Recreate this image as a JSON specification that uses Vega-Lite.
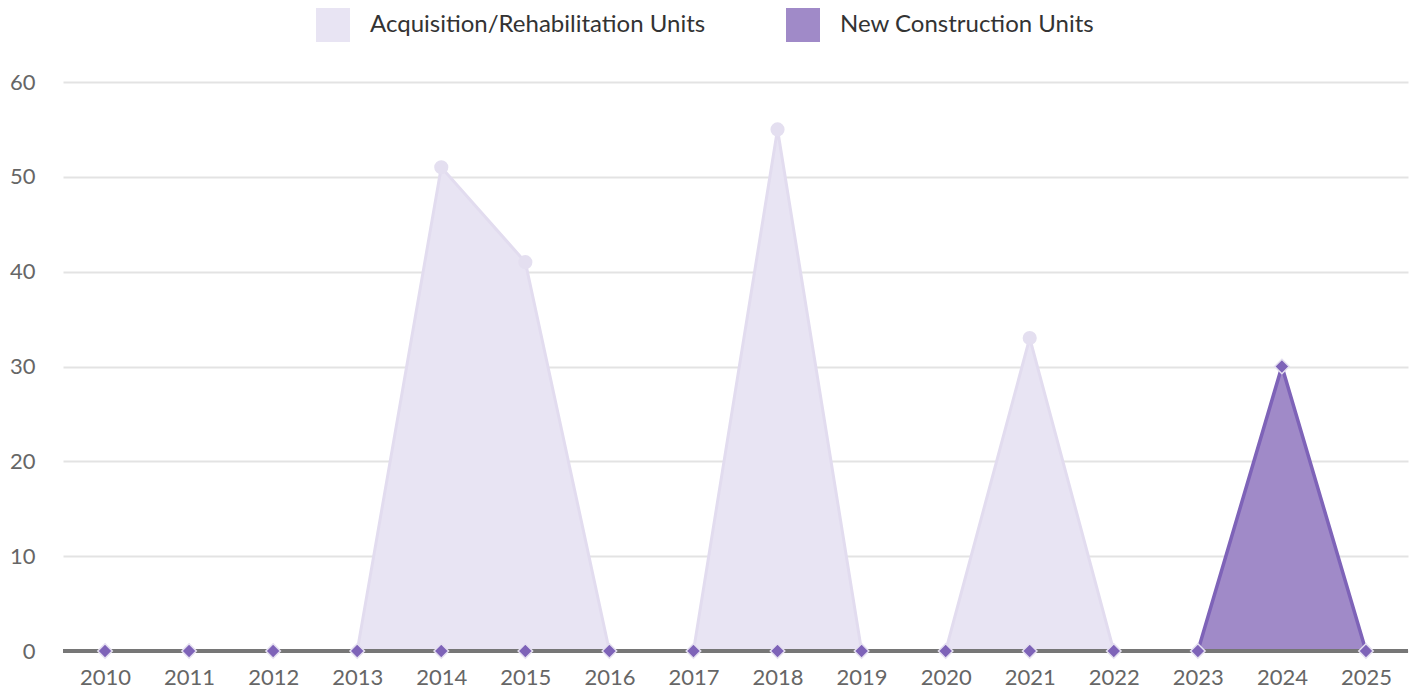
{
  "$schema": "https://vega.github.io/schema/vega-lite/v6.json",
  "width": 1345,
  "height": 569,
  "autosize": {"type": "none"},
  "padding": {"left": 63, "top": 82, "right": 8, "bottom": 41},
  "background": "#ffffff",
  "config": {
    "font": "Lato",
    "view": {"stroke": null},
    "axis": {"labelFont": "Lato", "labelFontSize": 22, "labelColor": "#666666"}
  },
  "data": {
    "values": [
      {"year": "2010", "series": "Acquisition/Rehabilitation Units", "units": 0},
      {"year": "2011", "series": "Acquisition/Rehabilitation Units", "units": 0},
      {"year": "2012", "series": "Acquisition/Rehabilitation Units", "units": 0},
      {"year": "2013", "series": "Acquisition/Rehabilitation Units", "units": 0},
      {"year": "2014", "series": "Acquisition/Rehabilitation Units", "units": 51},
      {"year": "2015", "series": "Acquisition/Rehabilitation Units", "units": 41},
      {"year": "2016", "series": "Acquisition/Rehabilitation Units", "units": 0},
      {"year": "2017", "series": "Acquisition/Rehabilitation Units", "units": 0},
      {"year": "2018", "series": "Acquisition/Rehabilitation Units", "units": 55},
      {"year": "2019", "series": "Acquisition/Rehabilitation Units", "units": 0},
      {"year": "2020", "series": "Acquisition/Rehabilitation Units", "units": 0},
      {"year": "2021", "series": "Acquisition/Rehabilitation Units", "units": 33},
      {"year": "2022", "series": "Acquisition/Rehabilitation Units", "units": 0},
      {"year": "2023", "series": "Acquisition/Rehabilitation Units", "units": 0},
      {"year": "2024", "series": "Acquisition/Rehabilitation Units", "units": 0},
      {"year": "2025", "series": "Acquisition/Rehabilitation Units", "units": 0},
      {"year": "2010", "series": "New Construction Units", "units": 0},
      {"year": "2011", "series": "New Construction Units", "units": 0},
      {"year": "2012", "series": "New Construction Units", "units": 0},
      {"year": "2013", "series": "New Construction Units", "units": 0},
      {"year": "2014", "series": "New Construction Units", "units": 0},
      {"year": "2015", "series": "New Construction Units", "units": 0},
      {"year": "2016", "series": "New Construction Units", "units": 0},
      {"year": "2017", "series": "New Construction Units", "units": 0},
      {"year": "2018", "series": "New Construction Units", "units": 0},
      {"year": "2019", "series": "New Construction Units", "units": 0},
      {"year": "2020", "series": "New Construction Units", "units": 0},
      {"year": "2021", "series": "New Construction Units", "units": 0},
      {"year": "2022", "series": "New Construction Units", "units": 0},
      {"year": "2023", "series": "New Construction Units", "units": 0},
      {"year": "2024", "series": "New Construction Units", "units": 30},
      {"year": "2025", "series": "New Construction Units", "units": 0}
    ]
  },
  "encoding": {
    "x": {
      "field": "year", "type": "ordinal",
      "scale": {"type": "point", "padding": 0.5},
      "axis": {"title": null, "labelAngle": 0, "domain": false, "ticks": false, "grid": false, "labelPadding": 16}
    },
    "y": {
      "field": "units", "type": "quantitative",
      "scale": {"domain": [0, 60], "nice": false},
      "axis": {"title": null, "values": [0, 10, 20, 30, 40, 50, 60], "domain": false, "ticks": false, "labelPadding": 28, "gridColor": "#e3e3e3", "gridWidth": 2}
    }
  },
  "layer": [
    {
      "transform": [{"filter": "datum.series === 'Acquisition/Rehabilitation Units'"}],
      "mark": {"type": "area", "opacity": 1},
      "encoding": {
        "color": {
          "field": "series", "type": "nominal",
          "scale": {"domain": ["Acquisition/Rehabilitation Units", "New Construction Units"], "range": ["#e8e4f3", "#a08ac8"]},
          "legend": {
            "title": null, "orient": "none", "legendX": 253, "legendY": -74, "direction": "horizontal",
            "symbolType": "square", "symbolSize": 1156, "symbolStrokeWidth": 0, "symbolOpacity": 1,
            "labelFont": "Lato", "labelFontSize": 24, "labelColor": "#333333", "labelOffset": 20, "columnPadding": 80, "labelLimit": 500
          }
        }
      }
    },
    {
      "transform": [{"filter": "datum.series === 'Acquisition/Rehabilitation Units'"}],
      "mark": {"type": "line", "color": "#e2dcef", "strokeWidth": 3},
      "encoding": {}
    },
    {
      "transform": [{"filter": "datum.series === 'Acquisition/Rehabilitation Units' && datum.units > 0"}],
      "mark": {"type": "point", "shape": "circle", "filled": true, "color": "#e4dff0", "opacity": 1, "size": 200},
      "encoding": {}
    },
    {
      "transform": [{"filter": "datum.series === 'New Construction Units'"}],
      "mark": {"type": "area", "opacity": 1},
      "encoding": {"color": {"field": "series", "type": "nominal"}}
    },
    {
      "transform": [{"filter": "datum.series === 'New Construction Units'"}],
      "mark": {"type": "line", "color": "#7e63b8", "strokeWidth": 3.5},
      "encoding": {}
    },
    {
      "mark": {"type": "rule", "color": "#777777", "strokeWidth": 3},
      "encoding": {"y": {"datum": 0}, "x": {"value": 0}, "x2": {"value": 1345}}
    },
    {
      "transform": [{"filter": "datum.series === 'New Construction Units'"}],
      "mark": {"type": "point", "shape": "diamond", "filled": true, "fill": "#7e63b8", "stroke": "#e4dff0", "strokeWidth": 1.5, "opacity": 1, "size": 210},
      "encoding": {}
    }
  ]
}
